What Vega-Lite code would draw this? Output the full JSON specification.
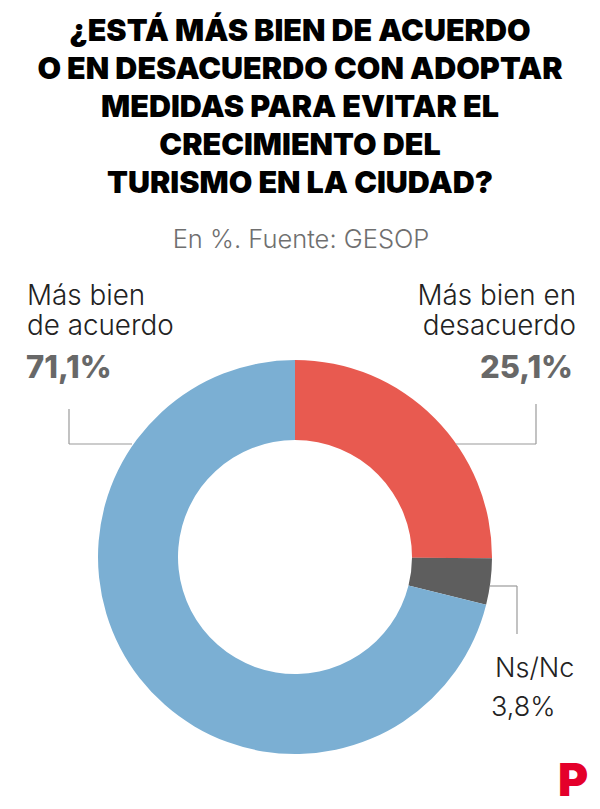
{
  "$schema": "https://vega.github.io/schema/vega-lite/v6.json",
  "width": 600,
  "height": 809,
  "autosize": {"type": "fit", "contains": "padding"},
  "padding": 0,
  "background": "#ffffff",
  "config": {"view": {"stroke": null}},
  "datasets": {
    "slices": [
      {"answer": "Más bien en desacuerdo", "pct": 25.1, "ord": 1, "cx": 295, "cy": 557},
      {"answer": "Ns/Nc", "pct": 3.8, "ord": 2, "cx": 295, "cy": 557},
      {"answer": "Más bien de acuerdo", "pct": 71.1, "ord": 3, "cx": 295, "cy": 557}
    ],
    "title": [
      {"t": "¿ESTÁ MÁS BIEN DE ACUERDO", "x": 300, "y": 32},
      {"t": "O EN DESACUERDO CON ADOPTAR", "x": 300, "y": 70},
      {"t": "MEDIDAS PARA EVITAR EL", "x": 300, "y": 108},
      {"t": "CRECIMIENTO DEL", "x": 300, "y": 146},
      {"t": "TURISMO EN LA CIUDAD?", "x": 300, "y": 184}
    ],
    "subtitle": [{"t": "En %. Fuente: GESOP", "x": 301, "y": 240}],
    "labelsLeft": [
      {"t": "Más bien", "x": 27, "y": 305},
      {"t": "de acuerdo", "x": 27, "y": 335}
    ],
    "labelsRight": [
      {"t": "Más bien en", "x": 576, "y": 305},
      {"t": "desacuerdo", "x": 576, "y": 335}
    ],
    "pctLeft": [{"t": "71,1%", "x": 26, "y": 378}],
    "pctRight": [{"t": "25,1%", "x": 573, "y": 378}],
    "nsnc": [
      {"t": "Ns/Nc", "x": 495, "y": 677},
      {"t": "3,8%", "x": 491, "y": 716}
    ],
    "leaders": [
      {"x": 69, "y": 409, "x2": 69, "y2": 444},
      {"x": 69, "y": 444, "x2": 132, "y2": 444},
      {"x": 536, "y": 404, "x2": 536, "y2": 444},
      {"x": 456, "y": 444, "x2": 536, "y2": 444},
      {"x": 490, "y": 586, "x2": 517, "y2": 586},
      {"x": 517, "y": 586, "x2": 517, "y2": 634}
    ],
    "logo": [{"t": "P", "x": 573, "y": 796}]
  },
  "layer": [
    {
      "data": {"name": "slices"},
      "mark": {"type": "arc", "outerRadius": 197, "innerRadius": 117},
      "encoding": {
        "theta": {"field": "pct", "type": "quantitative", "stack": true},
        "order": {"field": "ord", "type": "quantitative"},
        "x": {"field": "cx", "type": "quantitative", "scale": {"domain": [0, 600]}, "axis": null},
        "y": {"field": "cy", "type": "quantitative", "scale": {"domain": [809, 0]}, "axis": null},
        "color": {
          "field": "answer",
          "type": "nominal",
          "scale": {
            "domain": ["Más bien en desacuerdo", "Ns/Nc", "Más bien de acuerdo"],
            "range": ["#E85A50", "#5E5E5E", "#7BAFD3"]
          },
          "legend": null
        }
      }
    },
    {
      "data": {"name": "leaders"},
      "mark": {"type": "rule", "color": "#9a9a9a", "strokeWidth": 1.2},
      "encoding": {
        "x": {"field": "x", "type": "quantitative", "scale": {"domain": [0, 600]}, "axis": null},
        "y": {"field": "y", "type": "quantitative", "scale": {"domain": [809, 0]}, "axis": null},
        "x2": {"field": "x2"},
        "y2": {"field": "y2"}
      }
    },
    {
      "data": {"name": "title"},
      "mark": {"type": "text", "font": "Inter", "fontWeight": 900, "fontSize": 30.5, "align": "center", "baseline": "middle", "color": "#000000"},
      "encoding": {
        "x": {"field": "x", "type": "quantitative", "scale": {"domain": [0, 600]}, "axis": null},
        "y": {"field": "y", "type": "quantitative", "scale": {"domain": [809, 0]}, "axis": null},
        "text": {"field": "t"}
      }
    },
    {
      "data": {"name": "subtitle"},
      "mark": {"type": "text", "font": "Inter", "fontWeight": 300, "fontSize": 25.5, "align": "center", "baseline": "middle", "color": "#6f6f6f"},
      "encoding": {
        "x": {"field": "x", "type": "quantitative", "scale": {"domain": [0, 600]}, "axis": null},
        "y": {"field": "y", "type": "quantitative", "scale": {"domain": [809, 0]}, "axis": null},
        "text": {"field": "t"}
      }
    },
    {
      "data": {"name": "labelsLeft"},
      "mark": {"type": "text", "font": "Inter", "fontWeight": 300, "fontSize": 27.8, "align": "left", "baseline": "alphabetic", "color": "#222222"},
      "encoding": {
        "x": {"field": "x", "type": "quantitative", "scale": {"domain": [0, 600]}, "axis": null},
        "y": {"field": "y", "type": "quantitative", "scale": {"domain": [809, 0]}, "axis": null},
        "text": {"field": "t"}
      }
    },
    {
      "data": {"name": "labelsRight"},
      "mark": {"type": "text", "font": "Inter", "fontWeight": 300, "fontSize": 27.8, "align": "right", "baseline": "alphabetic", "color": "#222222"},
      "encoding": {
        "x": {"field": "x", "type": "quantitative", "scale": {"domain": [0, 600]}, "axis": null},
        "y": {"field": "y", "type": "quantitative", "scale": {"domain": [809, 0]}, "axis": null},
        "text": {"field": "t"}
      }
    },
    {
      "data": {"name": "pctLeft"},
      "mark": {"type": "text", "font": "Inter", "fontWeight": 800, "fontSize": 31, "align": "left", "baseline": "alphabetic", "color": "#686868"},
      "encoding": {
        "x": {"field": "x", "type": "quantitative", "scale": {"domain": [0, 600]}, "axis": null},
        "y": {"field": "y", "type": "quantitative", "scale": {"domain": [809, 0]}, "axis": null},
        "text": {"field": "t"}
      }
    },
    {
      "data": {"name": "pctRight"},
      "mark": {"type": "text", "font": "Inter", "fontWeight": 800, "fontSize": 31, "align": "right", "baseline": "alphabetic", "color": "#686868"},
      "encoding": {
        "x": {"field": "x", "type": "quantitative", "scale": {"domain": [0, 600]}, "axis": null},
        "y": {"field": "y", "type": "quantitative", "scale": {"domain": [809, 0]}, "axis": null},
        "text": {"field": "t"}
      }
    },
    {
      "data": {"name": "nsnc"},
      "mark": {"type": "text", "font": "Inter", "fontWeight": 300, "fontSize": 27, "align": "left", "baseline": "alphabetic", "color": "#222222"},
      "encoding": {
        "x": {"field": "x", "type": "quantitative", "scale": {"domain": [0, 600]}, "axis": null},
        "y": {"field": "y", "type": "quantitative", "scale": {"domain": [809, 0]}, "axis": null},
        "text": {"field": "t"}
      }
    },
    {
      "data": {"name": "logo"},
      "mark": {"type": "text", "font": "Inter", "fontWeight": 900, "fontSize": 46, "align": "center", "baseline": "alphabetic", "color": "#E4002B"},
      "encoding": {
        "x": {"field": "x", "type": "quantitative", "scale": {"domain": [0, 600]}, "axis": null},
        "y": {"field": "y", "type": "quantitative", "scale": {"domain": [809, 0]}, "axis": null},
        "text": {"field": "t"}
      }
    }
  ]
}
